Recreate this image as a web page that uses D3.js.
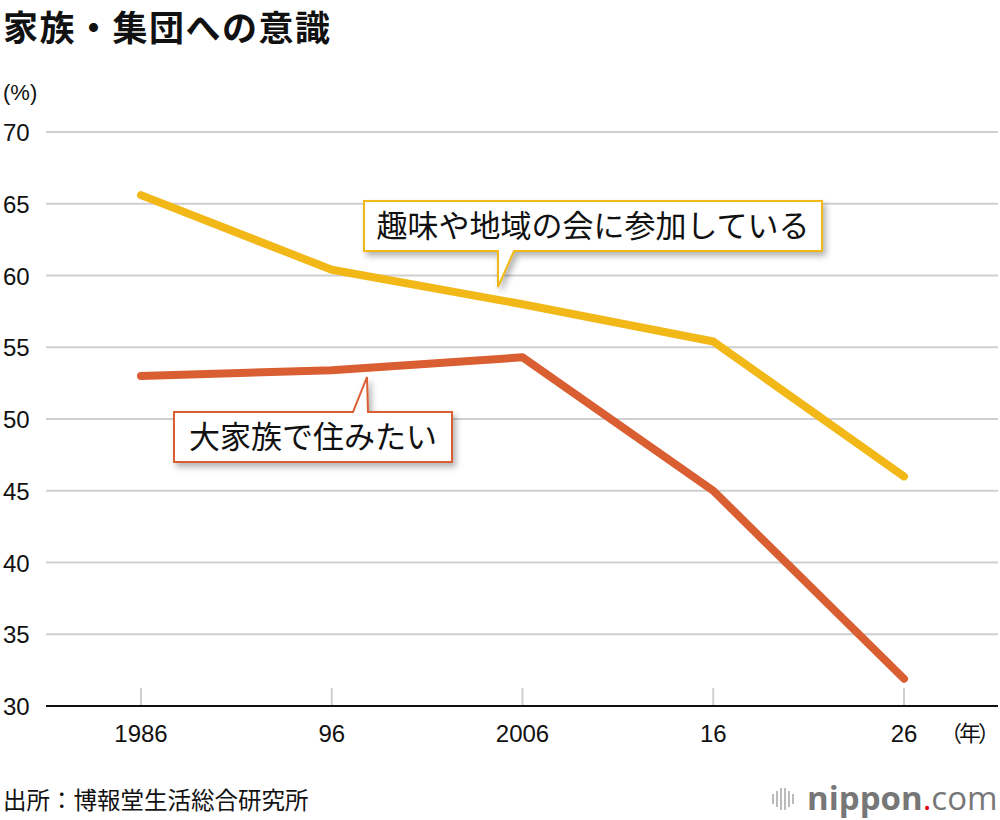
<!DOCTYPE html>
<html>
<head>
<meta charset="utf-8">
<script src="https://cdn.jsdelivr.net/npm/d3@7"></script>
<style>
  body { margin: 0; background: #fff; }
  svg { display: block; font-family: "Noto Sans CJK JP", "Noto Sans", sans-serif; }
</style>
</head>
<body>
<div id="chart"></div>
<script>
const years = ["1986", "96", "2006", "16", "26"];
const hobby = [65.6, 60.4, 58.0, 55.4, 46.0];     // 趣味や地域の会に参加している
const bigFamily = [53.0, 53.4, 54.3, 45.0, 31.9]; // 大家族で住みたい
const yTicks = [30, 35, 40, 45, 50, 55, 60, 65, 70];

const width = 1000, height = 820;
const yellow = "#f2b818", orange = "#d95f33";
const numFont = "'Liberation Sans', Arial, sans-serif";

const svg = d3.select("#chart").append("svg")
  .attr("width", width).attr("height", height);

const defs = svg.append("defs");
const f = defs.append("filter").attr("id", "shadow")
  .attr("x", "-10%").attr("y", "-30%").attr("width", "130%").attr("height", "170%");
f.append("feDropShadow").attr("dx", 3).attr("dy", 4).attr("stdDeviation", 3)
  .attr("flood-color", "#000").attr("flood-opacity", 0.3);

const x = d3.scalePoint().domain(years).range([141, 904]);
const y = d3.scaleLinear().domain([30, 70]).range([706, 132]);

// title
svg.append("text").attr("x", 3).attr("y", 41)
  .attr("font-size", 35).attr("font-weight", "bold").attr("fill", "#111")
  .attr("letter-spacing", 1.5)
  .text("家族・集団への意識");
svg.append("text").attr("x", 3).attr("y", 100)
  .attr("font-size", 22).attr("fill", "#111").attr("font-family", numFont).text("(%)");

// grid
svg.append("g").selectAll("line").data(yTicks.filter(d => d > 30)).join("line")
  .attr("x1", 46).attr("x2", 998)
  .attr("y1", d => y(d)).attr("y2", d => y(d))
  .attr("stroke", "#cfcfcf").attr("stroke-width", 2);

svg.append("g").selectAll("text").data(yTicks).join("text")
  .attr("x", 3).attr("y", d => y(d) + 9)
  .attr("font-size", 24).attr("fill", "#111")
  .attr("font-family", numFont)
  .text(d => d);

// x ticks
svg.append("g").selectAll("line").data(years).join("line")
  .attr("x1", d => x(d)).attr("x2", d => x(d))
  .attr("y1", 688).attr("y2", y(30))
  .attr("stroke", "#cfcfcf").attr("stroke-width", 2);

svg.append("line").attr("x1", 46).attr("x2", 998)
  .attr("y1", y(30)).attr("y2", y(30))
  .attr("stroke", "#111").attr("stroke-width", 2);

svg.append("g").selectAll("text").data(years).join("text")
  .attr("x", d => x(d)).attr("y", 742).attr("text-anchor", "middle")
  .attr("font-size", 24).attr("fill", "#111")
  .attr("font-family", numFont)
  .text(d => d);
svg.append("text").attr("x", 997).attr("y", 741).attr("text-anchor", "end")
  .attr("font-size", 22).attr("fill", "#111").attr("letter-spacing", -3).text("（年）");

// lines
const line = d3.line().x((d, i) => x(years[i])).y(d => y(d));
[[hobby, yellow], [bigFamily, orange]].forEach(([data, c]) => {
  svg.append("path").datum(data).attr("d", line)
    .attr("fill", "none").attr("stroke", c).attr("stroke-width", 8)
    .attr("stroke-linecap", "round").attr("stroke-linejoin", "round");
});

// callouts
function callout(bx, by, bw, bh, pts, color, label) {
  const g = svg.append("g");
  const x2 = bx + bw, y2 = by + bh;
  let p;
  if (pts.down) {
    p = `M${bx},${by}H${x2}V${y2}H${pts.b2}L${pts.ax},${pts.ay}L${pts.b1},${y2}H${bx}Z`;
  } else {
    p = `M${bx},${by}H${pts.b1}L${pts.ax},${pts.ay}L${pts.b2},${by}H${x2}V${y2}H${bx}Z`;
  }
  g.append("path").attr("d", p).attr("fill", "#fff")
    .attr("stroke", color).attr("stroke-width", 2).attr("filter", "url(#shadow)");
  g.append("text").attr("x", bx + bw / 2).attr("y", by + bh / 2 + 11)
    .attr("text-anchor", "middle").attr("font-size", 31).attr("fill", "#111")
    .text(label);
}
callout(364, 201, 458, 50, { down: true, b1: 498, b2: 514, ax: 498, ay: 287 }, yellow, "趣味や地域の会に参加している");
callout(174, 412, 278, 50, { down: false, b1: 353, b2: 368, ax: 367, ay: 377 }, orange, "大家族で住みたい");

// footer
svg.append("text").attr("x", 3).attr("y", 809)
  .attr("font-size", 23.5).attr("fill", "#111").text("出所：博報堂生活総合研究所");

const logo = svg.append("g").attr("transform", "translate(772,0)");
[0, 4, 8, 12, 16, 20].forEach((dx, i) => {
  const h = [10, 16, 22, 22, 16, 10][i];
  logo.append("rect").attr("x", dx).attr("y", 799 - h / 2).attr("width", 2).attr("height", h)
    .attr("fill", "#bbb");
});
const lt = svg.append("text").attr("x", 807).attr("y", 810)
  .attr("font-size", 33).attr("font-family", "'Open Sans', sans-serif").attr("fill", "#777");
lt.append("tspan").attr("font-weight", "bold").text("nippon");
lt.append("tspan").attr("fill", "#e60012").text(".");
lt.append("tspan").text("com");
</script>
</body>
</html>
